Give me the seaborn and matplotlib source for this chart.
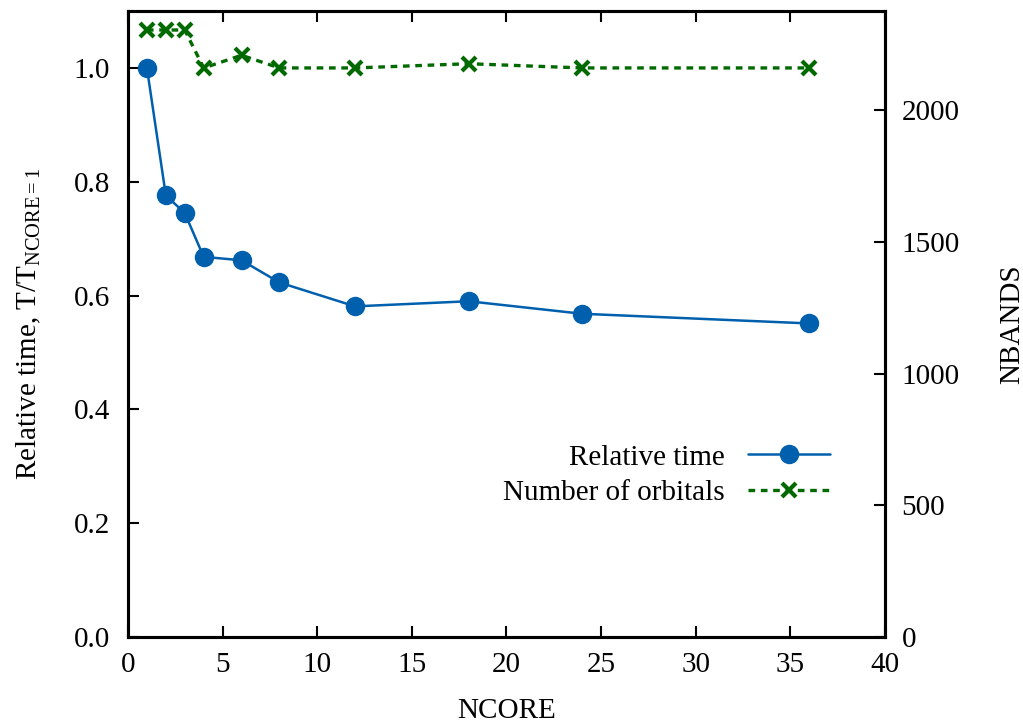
import matplotlib
matplotlib.use("Agg")
import matplotlib.pyplot as plt
import seaborn as sns
import pandas as pd

ncore = [1, 2, 3, 4, 6, 8, 12, 18, 24, 36]
relative_time = [1.0, 0.776, 0.745, 0.668, 0.662, 0.623, 0.581, 0.590, 0.568, 0.551]
nbands = [2304, 2304, 2304, 2160, 2208, 2160, 2160, 2176, 2160, 2160]

sns.set_style("ticks")
plt.rcParams['font.family'] = ['Liberation Serif', 'DejaVu Serif']
plt.rcParams['mathtext.fontset'] = 'custom'
plt.rcParams['mathtext.rm'] = 'Liberation Serif'
plt.rcParams['mathtext.it'] = 'Liberation Serif:italic'
plt.rcParams['font.size'] = 21
plt.rcParams['text.color'] = 'black'
plt.rcParams['axes.labelcolor'] = 'black'
plt.rcParams['xtick.color'] = 'black'
plt.rcParams['ytick.color'] = 'black'

blue = '#0060ad'
green = '#006a00'
FS = 21

df = pd.DataFrame({'NCORE': ncore, 'time': relative_time, 'nbands': nbands})

fig = plt.figure(figsize=(10.23, 7.26), dpi=100)
ax = fig.add_axes([0.1251, 0.1226, 0.7400, 0.8622])
ax2 = ax.twinx()

sns.lineplot(data=df, x='NCORE', y='time', ax=ax, color=blue, lw=1.8,
             marker='o', markersize=14, markeredgewidth=0, label='Relative time',
             legend=False)
sns.lineplot(data=df, x='NCORE', y='nbands', ax=ax2, color=green, lw=2.4,
             marker='x', markersize=10, markeredgewidth=3, markeredgecolor=green,
             label='Number of orbitals', legend=False, dashes=False)
ax2.lines[0].set_dashes([2.0, 1.7])

ax.set_xlim(0, 40)
ax.set_ylim(0, 1.1)
ax2.set_ylim(0, 2376)
ax.set_xticks(range(0, 41, 5))
ax.set_yticks([0, 0.2, 0.4, 0.6, 0.8, 1.0])
ax.set_yticklabels(['0.0', '0.2', '0.4', '0.6', '0.8', '1.0'])
ax2.set_yticks([0, 500, 1000, 1500, 2000])

ax.set_xlabel('NCORE', fontsize=FS, labelpad=14)
ax.set_ylabel(r'Relative time, T/T$_{\mathrm{NCORE=1}}$', fontsize=FS, labelpad=22)
ax2.set_ylabel('NBANDS', fontsize=FS, labelpad=28)

for a in (ax, ax2):
    for s in a.spines.values():
        s.set_linewidth(2.2)
        s.set_color('black')
        s.set_visible(True)
    a.tick_params(direction='in', length=8, width=1.5, labelsize=FS)
ax.tick_params(axis='y', pad=13)
ax.tick_params(axis='x', pad=11, top=True)
ax.tick_params(right=False)
ax2.tick_params(right=True, pad=12)

h1, l1 = ax.get_legend_handles_labels()
h2, l2 = ax2.get_legend_handles_labels()
leg = ax2.legend(h1 + h2, l1 + l2, loc='upper right', bbox_to_anchor=(0.962, 0.35),
                 frameon=False, markerfirst=False, handlelength=2.8, fontsize=FS,
                 labelspacing=0.32)

fig.savefig('out.png', dpi=100)
